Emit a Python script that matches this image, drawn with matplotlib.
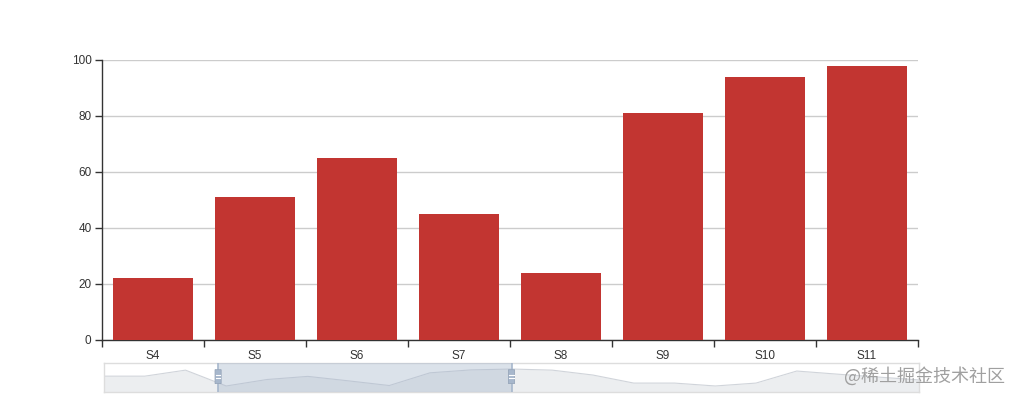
#!/usr/bin/env python3
"""ECharts-style bar chart with dataZoom slider below."""
import math
import numpy as np
import matplotlib as mpl
import matplotlib.pyplot as plt
from matplotlib.patches import FancyBboxPatch

mpl.rcParams.update({
    'font.family': ['Liberation Sans', 'DejaVu Sans'],
    'font.size': 8.5,
})

# full series (21 categories), main view shows only the zoom window
categories = [f'S{i}' for i in range(1, 22)]
values = [66, 66, 93, 22, 51, 65, 45, 24, 81, 94, 98,
          93, 71, 35, 35, 22, 35, 89, 75, 62, 49]
zoom_start, zoom_end = 14.0, 50.0   # percent of full range
yticks = [0, 20, 40, 60, 80, 100]

BAR = '#c23531'
TXT = '#333333'
GRID = '#cccccc'

n = len(categories)
i0 = math.ceil(zoom_start / 100 * (n - 1))
i1 = math.floor(zoom_end / 100 * (n - 1))
vis_cat = categories[i0:i1 + 1]
vis_val = values[i0:i1 + 1]

W, H = 1020, 400
fig = plt.figure(figsize=(W / 100, H / 100), dpi=100)

# main plot
ax = fig.add_axes([102 / W, 60 / H, 816 / W, 280 / H])
x = np.arange(len(vis_cat))
ax.bar(x, vis_val, width=0.79, color=BAR, zorder=3)
ax.set_xlim(-0.5, len(vis_cat) - 0.5)
ax.set_ylim(0, 100)
ax.set_yticks(yticks)
ax.yaxis.grid(True, color=GRID, linewidth=1)
ax.set_axisbelow(True)
for s in ['top', 'right']:
    ax.spines[s].set_visible(False)
for s in ['left', 'bottom']:
    ax.spines[s].set_color(TXT)
    ax.spines[s].set_linewidth(1)
ax.set_xticks(x)
ax.set_xticklabels(vis_cat)
ax.set_xticks(np.arange(-0.5, len(vis_cat)), minor=True)
ax.tick_params(axis='x', which='major', length=0, pad=7, labelcolor=TXT)
ax.tick_params(axis='x', which='minor', length=5, width=1, color=TXT)
ax.tick_params(axis='y', length=5, width=1, color=TXT, pad=2.5, labelcolor=TXT)

# dataZoom slider
axs = fig.add_axes([104 / W, 8 / H, 815 / W, 29 / H])
xs = np.arange(n)
axs.set_xlim(0, n - 1)
axs.set_ylim(-5, 125)
axs.fill_between(xs, values, -5, color='#eceef0', linewidth=0, zorder=1)
axs.plot(xs, values, color='#d0d4da', linewidth=0.8, zorder=2)
sx0 = zoom_start / 100 * (n - 1)
sx1 = zoom_end / 100 * (n - 1)
axs.axvspan(sx0, sx1, color=(167 / 255, 183 / 255, 204 / 255), alpha=0.4, linewidth=0, zorder=3)
for sx in (sx0, sx1):
    axs.axvline(sx, color='#a7b7cc', linewidth=1.2, zorder=4)
    hw = 0.15
    axs.add_patch(FancyBboxPatch((sx - hw / 2, 33), hw, 62,
                                 boxstyle='round,pad=0,rounding_size=0.03',
                                 facecolor='#a7b7cc', edgecolor='#97a6ba',
                                 linewidth=0.6, zorder=5))
    for yy in (56, 72):
        axs.plot([sx - hw / 3, sx + hw / 3], [yy, yy], color='white', linewidth=0.8, zorder=6)
axs.set_xticks([])
axs.set_yticks([])
for s in axs.spines.values():
    s.set_color('#dddddd')
    s.set_linewidth(1)

# watermark
fig.text(1005 / W, (H - 376) / H, '@稀土掘金技术社区', ha='right', va='center',
         fontsize=13, color='#a0a0a0', family=['Noto Sans CJK SC', 'DejaVu Sans'])

fig.savefig('out.png', dpi=100)
